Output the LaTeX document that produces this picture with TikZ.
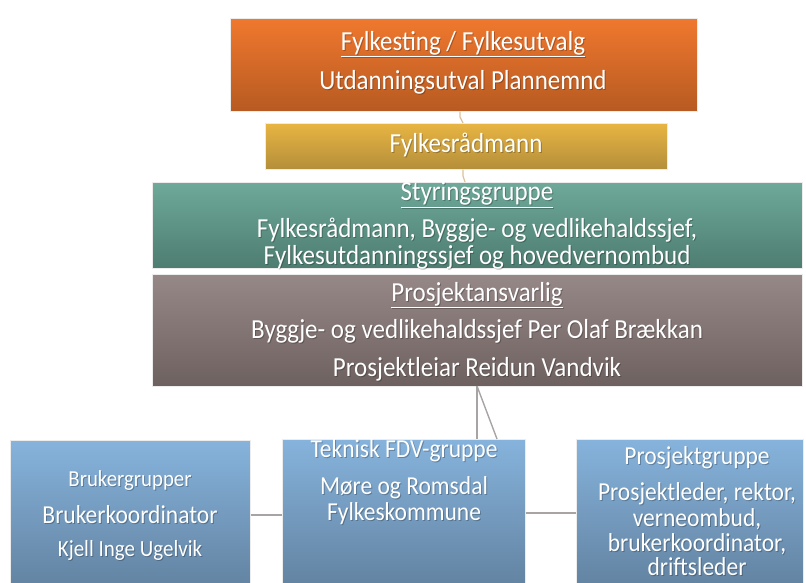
\documentclass[tikz,border=0pt]{standalone}
\usepackage{fontspec}
\usetikzlibrary{calc}
\setmainfont{Carlito}
\definecolor{orT}{HTML}{F0782E}\definecolor{orB}{HTML}{B75A22}
\definecolor{goT}{HTML}{E8B543}\definecolor{goB}{HTML}{B48E3A}
\definecolor{grT}{HTML}{6EA99A}\definecolor{grB}{HTML}{4D7D70}
\definecolor{maT}{HTML}{978888}\definecolor{maB}{HTML}{6D615F}
\definecolor{blT}{HTML}{86B3DC}\definecolor{blB}{HTML}{6282A0}
\definecolor{tan}{HTML}{D9C29A}
\definecolor{conn}{HTML}{A8A4A4}
\newcommand\lbl[4]{%
  \node[#1,text=black,opacity=0.25] at ($(#2)+(1,1)$) {\scalebox{1}[1.1]{#4}};
  \node[#1] (#3) at (#2) {\scalebox{1}[1.1]{#4}};}
\begin{document}
\begin{tikzpicture}[x=1pt,y=-1pt,
  box/.style={rectangle,draw=white!85!gray,line width=0.6pt,anchor=north west,inner sep=0pt},
  txt/.style={text=white,font=\fontsize{25}{28}\selectfont,inner sep=0pt},
  btxt/.style={text=white,font=\fontsize{23.5}{26}\selectfont,inner sep=0pt},
  link/.style={draw=conn,line width=1.4pt},
  tlink/.style={draw=tan,line width=1.2pt}]
\useasboundingbox (0,0) rectangle (806,583);
% boxes
\node[box,top color=orT,bottom color=orB,minimum width=467pt,minimum height=93pt] (fyl) at (230,18) {};
\node[box,top color=goT,bottom color=goB,minimum width=402pt,minimum height=46pt] (rad) at (265,123) {};
\node[box,top color=grT,bottom color=grB,minimum width=650pt,minimum height=86pt] (sty) at (152,182) {};
\node[box,top color=maT,bottom color=maB,minimum width=650pt,minimum height=112pt] (pro) at (152,274) {};
\node[box,top color=blT,bottom color=blB,minimum width=240pt,minimum height=150pt] (bru) at (10,440) {};
\node[box,top color=blT,bottom color=blB,minimum width=243pt,minimum height=150pt] (tek) at (282,439) {};
\node[box,top color=blT,bottom color=blB,minimum width=227pt,minimum height=150pt] (pgr) at (576,439) {};
% connectors
\coordinate (k1) at (460,117);
\coordinate (k2) at (463,176);
\draw[tlink] (fyl.south -| 460,0) -- (k1) -- (rad.north -| 463,0);
\draw[tlink] (rad.south -| 463,0) -- (k2) -- (sty.north -| 465,0);
\coordinate (top) at (477,386);
\draw[link] (top) -- (tek.north -| 477,0);
\draw[link] (top) -- (tek.north -| 497,0);
\draw[link] (bru.east |- 0,515) -- (tek.west |- 0,515);
\draw[link] (tek.east |- 0,513) -- (pgr.west |- 0,513);
% texts
\lbl{txt}{463,44}{t1}{\underline{Fylkesting / Fylkesutvalg}}
\lbl{txt}{463,82}{t2}{Utdanningsutval Plannemnd}
\lbl{txt}{466,145}{t3}{Fylkesrådmann}
\lbl{txt}{477,195}{t4}{\underline{Styringsgruppe}}
\lbl{txt}{477,230}{t5}{Fylkesrådmann, Byggje- og vedlikehaldssjef,}
\lbl{txt}{477,257}{t6}{Fylkesutdanningssjef og hovedvernombud}
\lbl{txt}{477,295}{t7}{\underline{Prosjektansvarlig}}
\lbl{txt}{477,331}{t8}{Byggje- og vedlikehaldssjef Per Olaf Brækkan}
\lbl{txt}{477,369}{t9}{Prosjektleiar Reidun Vandvik}
\lbl{btxt,font=\fontsize{20.8}{23}\selectfont}{130,481}{b1}{Brukergrupper}
\lbl{btxt}{130,515}{b2}{Brukerkoordinator}
\lbl{btxt,font=\fontsize{21}{23}\selectfont}{130,550}{b3}{Kjell Inge Ugelvik}
\lbl{btxt}{404,451}{c1}{Teknisk FDV-gruppe}
\lbl{btxt}{404,488}{c2}{Møre og Romsdal}
\lbl{btxt}{404,514}{c3}{Fylkeskommune}
\lbl{btxt}{697,458}{d1}{Prosjektgruppe}
\lbl{btxt}{697,494}{d2}{Prosjektleder, rektor,}
\lbl{btxt}{697,519}{d3}{verneombud,}
\lbl{btxt}{697,544}{d4}{brukerkoordinator,}
\lbl{btxt}{697,567}{d5}{driftsleder}
\end{tikzpicture}
\end{document}
